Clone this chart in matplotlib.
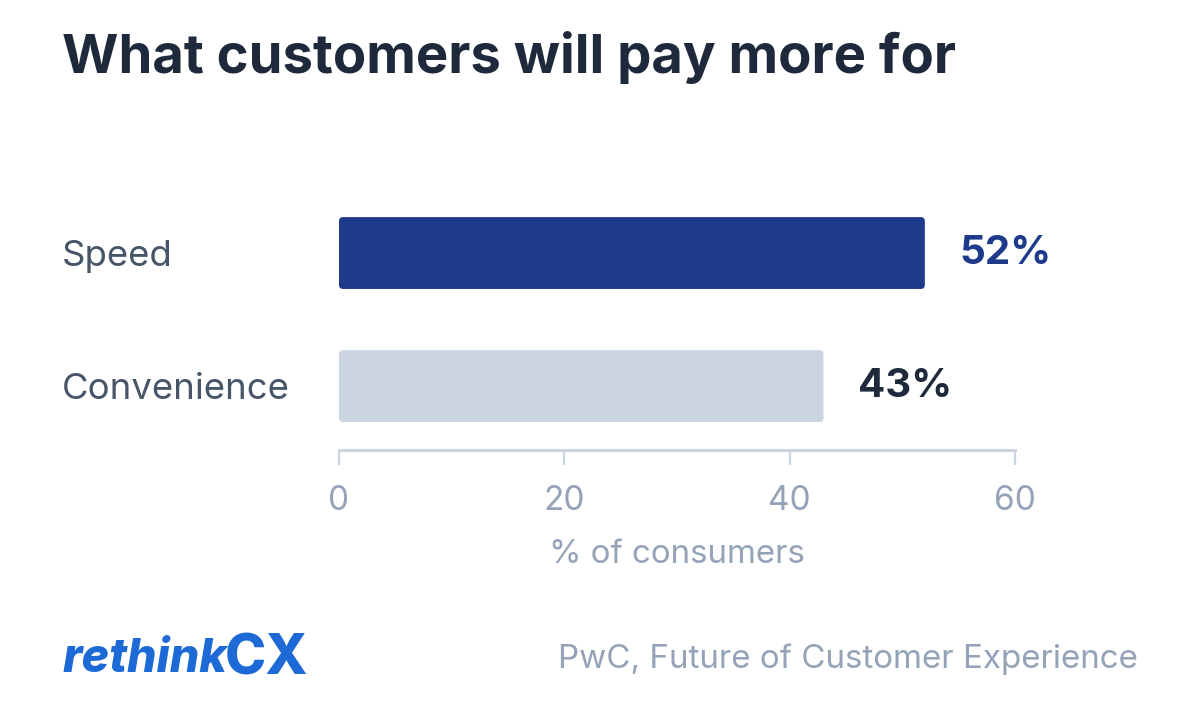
import matplotlib.pyplot as plt
from matplotlib.patches import FancyBboxPatch

# data
categories = ['Convenience', 'Speed']
values = [43, 52]
value_labels = ['43%', '52%']
bar_colors = ['#cbd5e1', '#1e3a8a']
label_colors = ['#1e293b', '#1e3a8a']
x_ticks = [0, 20, 40, 60]

plt.rcParams['font.family'] = ['Inter', 'DejaVu Sans']

fig = plt.figure(figsize=(12, 7.24), dpi=100)
ax = fig.add_axes([0.2825, 0.3785, 0.5633, 0.3639])

bars = ax.barh(range(len(categories)), values, height=0.54, color=bar_colors)

# swap plain bars for slightly rounded ones
for b in bars:
    x, y = b.get_x(), b.get_y()
    w, h = b.get_width(), b.get_height()
    rounded = FancyBboxPatch((x, y), w, h,
                             boxstyle='round,pad=0,rounding_size=0.35',
                             mutation_aspect=0.0857,
                             facecolor=b.get_facecolor(), edgecolor='none')
    b.remove()
    ax.add_patch(rounded)

for i, (v, lab) in enumerate(zip(values, value_labels)):
    ax.text(v + 3.1, i, lab, va='center', ha='left', fontsize=29,
            fontweight='bold', color=label_colors[i])

ax.set_xlim(0, 60)
ax.set_ylim(-0.48, 1.5)
ax.set_xticks(x_ticks)
ax.set_yticks(range(len(categories)))
ax.set_yticklabels(categories)

for s in ['top', 'right', 'left']:
    ax.spines[s].set_visible(False)
ax.spines['bottom'].set_color('#cbd5e1')
ax.spines['bottom'].set_linewidth(2.2)

# category labels left-aligned near the figure edge
ax.tick_params(axis='y', length=0, pad=199.4, labelsize=26.3, labelcolor='#475569')
for t in ax.get_yticklabels():
    t.set_horizontalalignment('left')

ax.tick_params(axis='x', direction='out', length=11, width=1.6, color='#cbd5e1',
               labelsize=24, labelcolor='#94a3b8', pad=14)
ax.set_xlabel('% of consumers', fontsize=23.8, color='#94a3b8', labelpad=16)

fig.text(0.052, 0.921, 'What customers will pay more for', fontsize=39.2,
         fontweight='bold', color='#1e293b', ha='left', va='center')

# logo
logo = fig.text(0.052, 0.088, 'rethink', fontsize=33.5, fontweight='heavy',
                style='italic', color='#1d6ad6', ha='left', va='center')
fig.canvas.draw()
ext = logo.get_window_extent()
fig.text(ext.x1 / fig.bbox.width - 0.002, 0.089, 'CX', fontsize=40,
         fontweight='heavy', color='#1d6ad6', ha='left', va='center')

fig.text(0.948, 0.089, 'PwC, Future of Customer Experience', fontsize=23.9,
         color='#94a3b8', ha='right', va='center')

fig.savefig('out.png', dpi=100, facecolor='white')
